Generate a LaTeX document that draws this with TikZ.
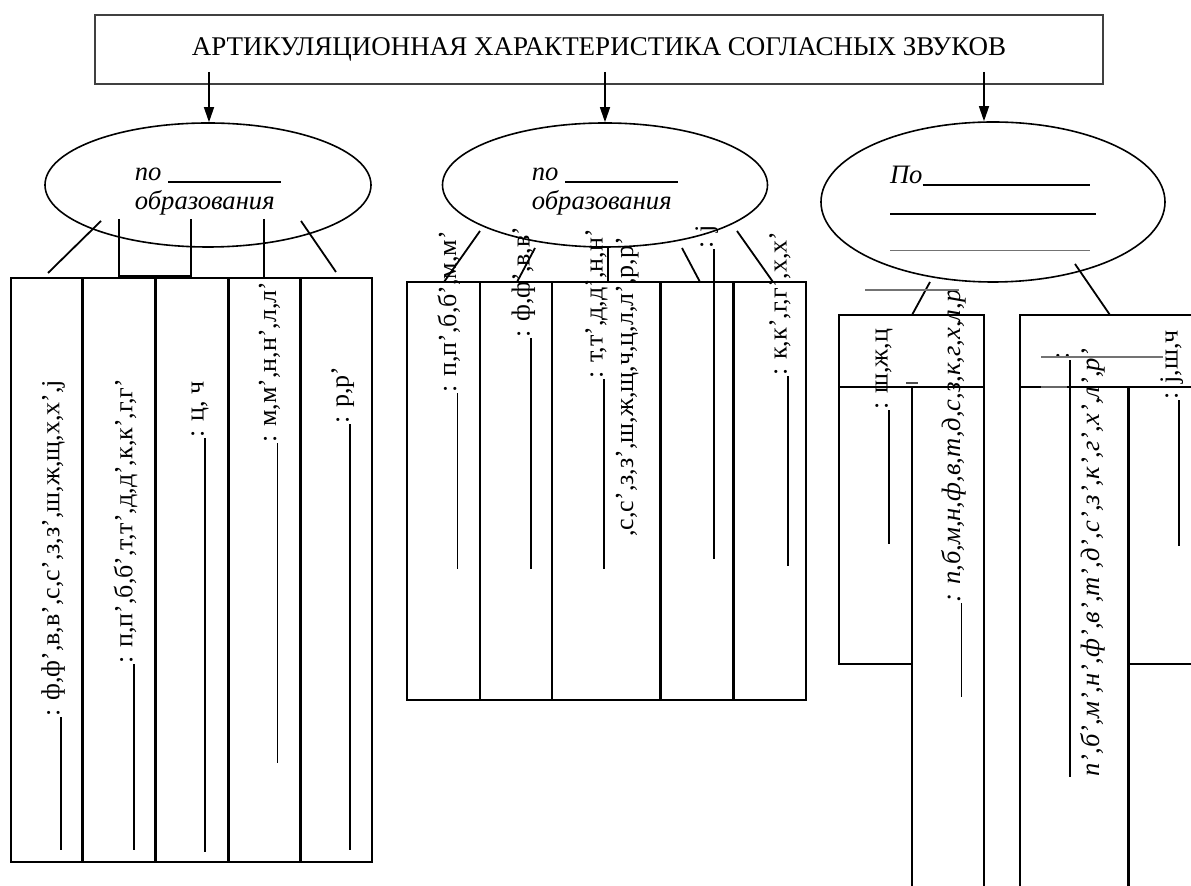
\documentclass[tikz,border=0pt]{standalone}
\usepackage{fontspec}
\setmainfont{Liberation Serif}
\usetikzlibrary{shapes.geometric}
\usetikzlibrary{arrows.meta}
\newcommand{\blank}[1]{\rule[-1.2pt]{#1}{0.9pt}}

\begin{document}
\begin{tikzpicture}[x=0.5pt, y=-0.5pt]
    \tikzstyle{every node} = [inner sep=0pt, font=\fontsize{13}{14.5}\selectfont]
    \tikzstyle{frame} = [line width=1.1pt]
    \tikzstyle{heavy frame} = [line width=1.5pt]
    \tikzstyle{link} = [line width=0.9pt]
    \tikzstyle{oval} = [ellipse, draw, line width=0.8pt, align=left, font=\fontsize{13.3}{14.5}\selectfont\itshape]
    \tikzstyle{letters} = [rotate=90, anchor=base west]
    \tikzstyle{slanted letters} = [letters, font=\fontsize{13.3}{14.5}\selectfont\itshape]
    \tikzstyle{stray} = [black!55, line width=0.6pt]
    \useasboundingbox (0,0) rectangle (1191,886);
    \clip (0,0) rectangle (1191,886);

    % heading and the three groups
    \node[draw=black!75, line width=0.8pt, minimum width=504pt, minimum height=34.5pt,
        font=\fontsize{13.5}{15}\selectfont] (title) at (599,49.5)
        {АРТИКУЛЯЦИОННАЯ ХАРАКТЕРИСТИКА СОГЛАСНЫХ ЗВУКОВ};
    \node[oval, minimum width=163pt, minimum height=62pt] (manner) at (208,185)
        {\rule{0pt}{12.5pt}по \blank{56.5pt}\\образования};
    \node[oval, minimum width=162.5pt, minimum height=62pt] (place) at (605,185)
        {\rule{0pt}{12.5pt}по \blank{56.5pt}\\образования};
    \node[oval, minimum width=172pt, minimum height=80pt] (hardness) at (993,202)
        {\rule{0pt}{15.3pt}По\blank{83.5pt}\\\blank{103pt}\\[4pt]{\color{black!55}\rule[-1pt]{100pt}{0.5pt}}};
    \foreach \n/\x/\e in {a1/209/manner, a2/605/place, a3/984/hardness} {
        \coordinate (\n) at (\x,72);
        \draw[line width=0.7pt, -{Triangle[length=7.5pt, width=5pt]}] (\n) -- (\n |- \e.north);
    }

    % columns
    \draw[frame] (11,278) rectangle (372,862);
    \foreach \x in {82,155,228,300} \draw[heavy frame] (\x,278) -- (\x,862);
    \draw[frame] (407,282) rectangle (806,700);
    \foreach \x in {480,552} \draw[frame] (\x,282) -- (\x,700);
    \foreach \x in {660,733} \draw[heavy frame] (\x,282) -- (\x,700);
    \draw[frame] (839,315) rectangle (984,387);
    \draw[frame] (839,387) -- (839,664) -- (912,664);
    \foreach \x in {912,984} \draw[frame] (\x,387) -- (\x,900);
    \draw[frame] (1200,315) -- (1020,315) -- (1020,900);
    \draw[frame] (1020,387) -- (1200,387);
    \draw[heavy frame] (1128,387) -- (1128,900);
    \draw[frame] (1128,664) -- (1200,664);

    % links from the ovals
    \foreach \n/\ax/\ay/\bx/\by in {m1/101/221/48/273, m4/264/219/264/277, m5/301/221/336/272,
            p1/480/231/444/282, p2/535/248/517/282, p3/608/248/608/282, p4/682/248/700/282,
            p5/737/231/773/282, h1/930/282/912/315, h2/1075/264/1110/315} {
        \coordinate (\n-s) at (\ax,\ay);
        \coordinate (\n-e) at (\bx,\by);
        \draw[link] (\n-s) -- (\n-e);
    }
    \coordinate (m2) at (119,219);
    \coordinate (m3) at (191,219);
    \draw[link] (m2) -- ++(0,57) -| (m3);

    % sound lists
    \node[letters] (fric) at (59.5,850) {\blank{66.5pt}: ф,ф’,в,в’,с,с’,з,з’,ш,ж,щ,х,х’,j};
    \node[letters] (stop) at (132.5,850) {\blank{93pt}: п,п’,б,б’,т,т’,д,д’,к,к’,г,г'};
    \node[letters] (affr) at (203.5,852) {\blank{207pt}: ц, ч};
    \node[letters] (sonor) at (276,763) {\blank{160pt}: м,м’,н,н’,л,л’};
    \node[letters] (trill) at (348.5,850) {\blank{213pt}: р,р’};
    \node[letters] (labial) at (456,569) {\blank{88pt}: п,п’,б,б’,м,м’};
    \node[letters] (labdent) at (529.5,569) {\blank{115.5pt}: ф,ф’,в,в’};
    \node[letters] (front) at (602.5,569) {\blank{95pt}: т,т’,д,д’,н,н’};
    \node[letters] (front2) at (633,537) {,с,с’,з,з’,ш,ж,щ,ч,ц,л,л’,р,р’};
    \node[letters] (middle) at (712.5,559) {\blank{155pt}: j};
    \node[letters] (back) at (786.5,566) {\blank{95pt}: к,к’,г,г’,х,х’};
    \node[letters] (hard) at (887.5,544) {\blank{67pt}: ш,ж,ц};
    \node[slanted letters] (hardall) at (960,697) {\blank{47pt}: п,б,м,н,ф,в,т,д,с,з,к,г,х,л,р};
    \node[letters] (soft) at (1177.5,546) {\blank{73pt}: j,ш,ч};
    \node[letters] (softgap) at (1068.5,777) {\blank{208.5pt}:};
    \node[slanted letters] (softall) at (1099,777) {п’,б’,м’,н’,ф’,в’,т’,д’,с’,з’,к’,г’,х’,л’,р’};

    % loose strokes
    \draw[stray] (865,290) -- (959,290);
    \draw[black!70, line width=0.8pt] (906,383) -- (918,383);
    \draw[stray] (1041,357) -- (1163,357);
    \draw[black!60, line width=1.3pt] (1041,387) -- (1067,387);
\end{tikzpicture}
\end{document}
